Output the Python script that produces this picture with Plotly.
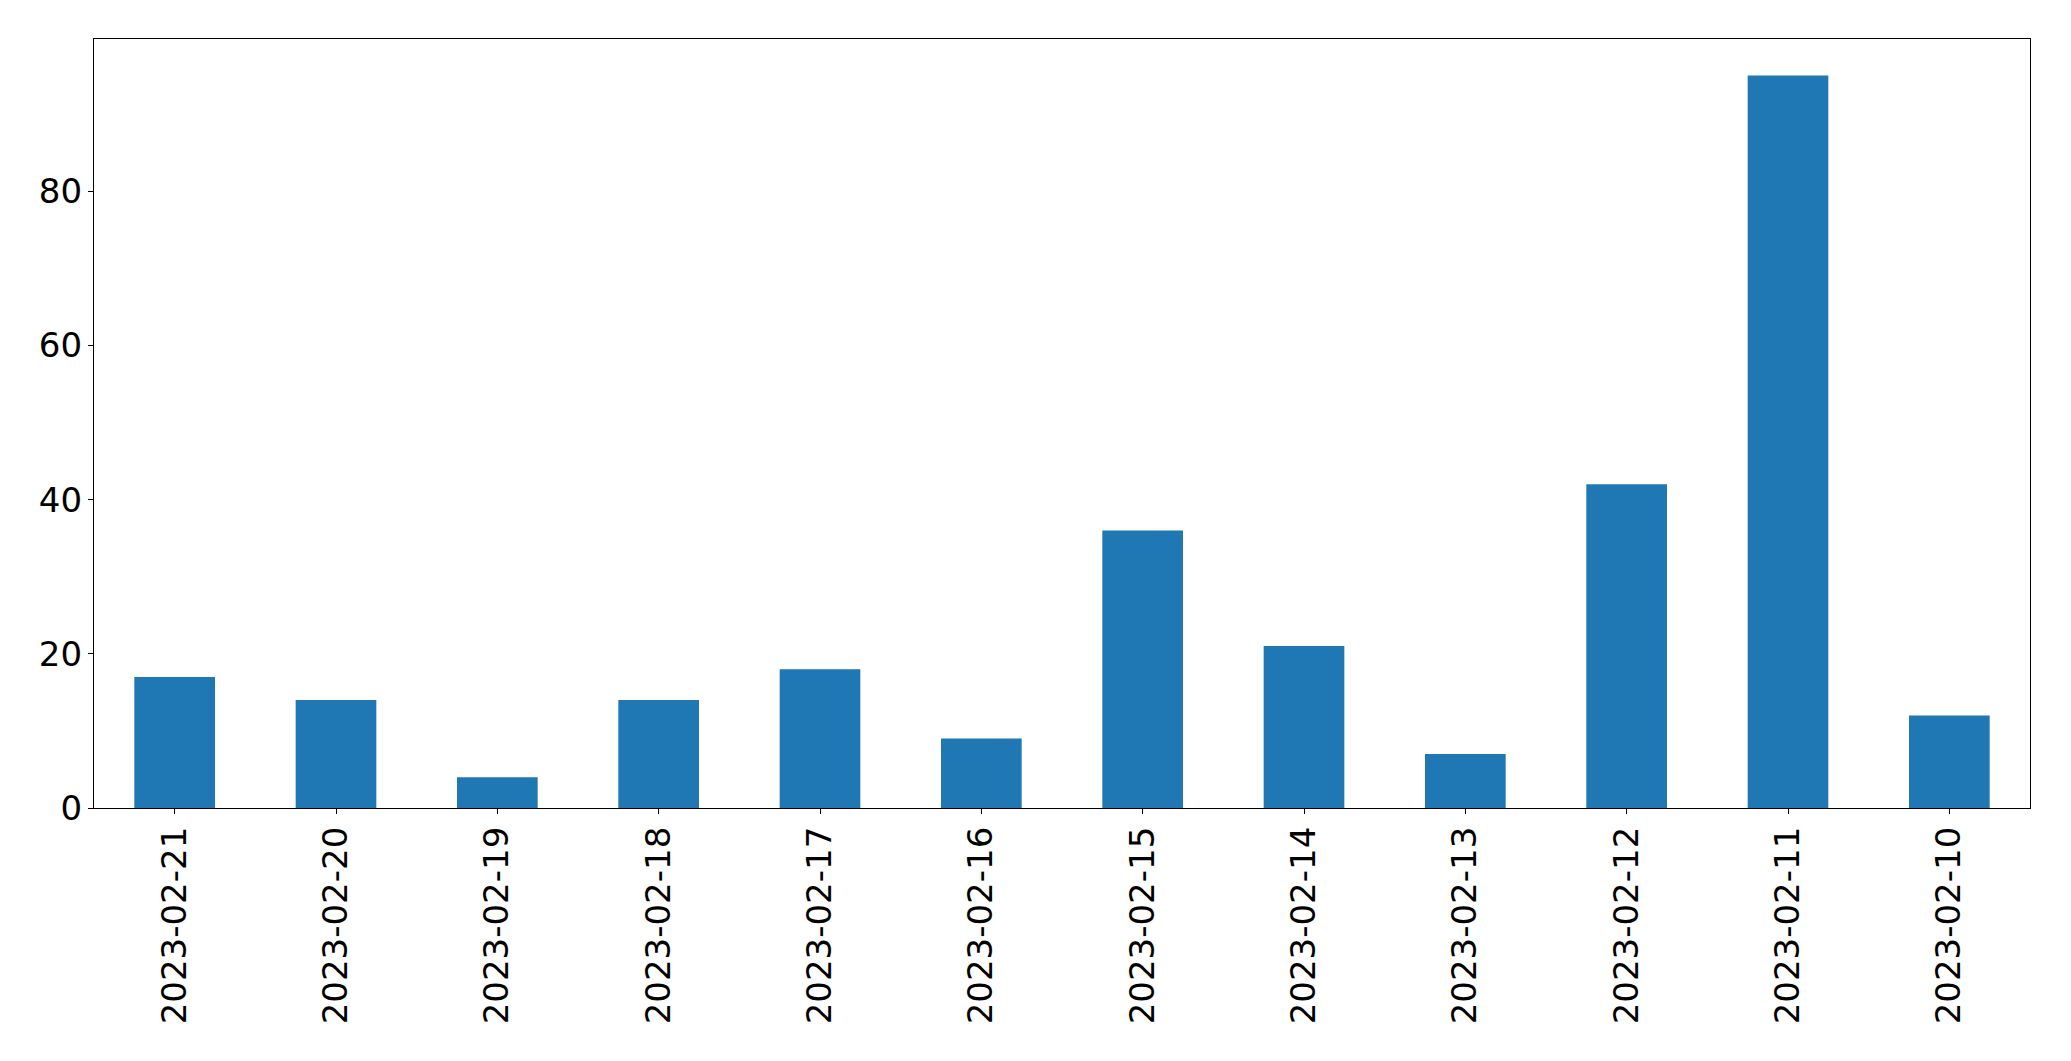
import plotly.graph_objects as go

dates = ["2023-02-21", "2023-02-20", "2023-02-19", "2023-02-18", "2023-02-17", "2023-02-16",
         "2023-02-15", "2023-02-14", "2023-02-13", "2023-02-12", "2023-02-11", "2023-02-10"]
counts = [17, 14, 4, 14, 18, 9, 36, 21, 7, 42, 95, 12]
y_ticks = [0, 20, 40, 60, 80]

fig = go.Figure(go.Bar(x=dates, y=counts, width=0.5, marker=dict(color="#1f77b4", line=dict(width=0))))

font = dict(family="DejaVu Sans", size=34, color="black")
fig.update_layout(
    width=2063, height=1053,
    margin=dict(l=86, r=41, t=31, b=253, autoexpand=False),
    plot_bgcolor="white", paper_bgcolor="white",
    showlegend=False, font=font,
)
fig.update_xaxes(
    type="category", range=[-0.5, len(dates) - 0.5],
    showline=True, linecolor="black", linewidth=1.3, mirror=True,
    ticks="outside", ticklen=5, tickwidth=1.3, tickcolor="black",
    tickangle=-90, showgrid=False, tickfont=font, ticklabelstandoff=-1,
)
fig.update_yaxes(
    range=[0, max(counts) * 1.05], tickvals=y_ticks,
    showline=True, linecolor="black", linewidth=1.3, mirror=True,
    ticks="outside", ticklen=5, tickwidth=1.3, tickcolor="black",
    showgrid=False, zeroline=False, tickfont=font, ticklabelstandoff=-1,
)
fig.write_html("out.html")
